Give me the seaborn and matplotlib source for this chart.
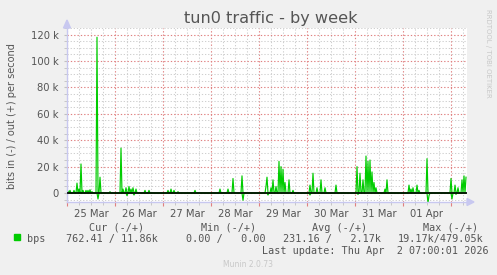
import numpy as np
import pandas as pd
import matplotlib
matplotlib.use("Agg")
import matplotlib.pyplot as plt
import matplotlib.ticker as mticker
from matplotlib.patches import Rectangle, Polygon
import seaborn as sns

# ---------------- data (hours since 25 Mar 00:00, values in kbit/s) ----------------
out_hours = [0.5, 1.5, 3.5, 5, 6, 7, 8, 9.5, 10.5, 11.5, 12.5, 15, 16.5, 21.5,
             27, 28, 29.5, 31, 32, 33, 34.5, 39, 41, 50.5, 52, 53.5, 55.5, 64,
             76.5, 80.5, 83, 87.5, 99.5, 100, 102, 103, 104.5, 106, 107, 108,
             109, 111, 113, 121.5, 123, 125, 127, 129, 134.5, 145, 146.5, 148,
             149.5, 150.5, 151.5, 152.5, 153.5, 154.5, 159, 160, 171, 172, 173,
             175, 176, 180, 192, 194, 195.5, 197.5, 198.5, 199.5]
out_kbps = [1.5, 2, 2, 7.5, 3, 22, 2, 2, 2, 2.5, 1, 118, 12, 1,
            34, 3, 4, 5, 3, 4, 3, 2, 2, 2, 3, 2, 1, 2,
            3, 3, 11, 13, 5, 12, 4, 10, 5, 24, 20, 18,
            8, 10, 2, 6, 15, 4, 10, 4, 6, 20, 15, 10,
            28, 24, 25, 16, 8, 4, 3, 10, 6, 3, 4,
            6, 2, 26, 11, 6, 4, 10, 13, 12]
in_hours = [15.5, 30, 33.5, 88, 100.5, 121.5, 145.5, 180.5, 181, 192.5, 194.5]
in_kbps = [4.5, 2, 1.5, 5.5, 1.5, 1.5, 1, 7.5, 2, 4.5, 1]

day_labels = ["25 Mar", "26 Mar", "27 Mar", "28 Mar", "29 Mar", "30 Mar", "31 Mar", "01 Apr"]
y_major = [0, 20000, 40000, 60000, 80000, 100000, 120000]

legend_head = ["Cur (-/+)", "Min (-/+)", "Avg (-/+)", "Max (-/+)"]
legend_vals = ["762.41 / 11.86k", "0.00 /   0.00", "231.16 /   2.17k", "19.17k/479.05k"]
last_update = "Last update: Thu Apr  2 07:00:01 2026"

# ---------------- build series at 30-minute resolution ----------------
hours = np.arange(0, 200, 0.5)
out_vals = np.zeros_like(hours)
in_vals = np.zeros_like(hours)
for h, v in zip(out_hours, out_kbps):
    out_vals[int(round(h * 2))] = v * 1000
for h, v in zip(in_hours, in_kbps):
    in_vals[int(round(h * 2))] = -v * 1000

df = pd.concat([
    pd.DataFrame({"hour": hours, "bps": in_vals, "dir": "in"}),
    pd.DataFrame({"hour": hours, "bps": out_vals, "dir": "out"}),
])

# ---------------- figure ----------------
W, H = 497, 275
BG = "#F0F0F0"
fig = plt.figure(figsize=(W / 100, H / 100), dpi=100, facecolor=BG)
L, R, T, B = 67, 467, 28, 202
ax = fig.add_axes([L / W, 1 - B / H, (R - L) / W, (B - T) / H])
ax.set_facecolor("white")

GREEN = "#00CC00"
sns.lineplot(data=df, x="hour", y="bps", hue="dir", palette=[GREEN, GREEN],
             linewidth=0.85, legend=False, ax=ax, estimator=None, sort=True)
ax.axhline(0, color="black", linewidth=1.2, zorder=5)

ax.set_xlim(0, 200)
ax.set_ylim(-6800, 125000)

# grids
ax.xaxis.set_major_locator(mticker.MultipleLocator(24))
ax.xaxis.set_minor_locator(mticker.MultipleLocator(6))
ax.yaxis.set_major_locator(mticker.FixedLocator(y_major))
ax.yaxis.set_minor_locator(mticker.MultipleLocator(5000))
ax.grid(which="minor", color="#CFCFCF", linestyle=(0, (1.2, 1.8)), linewidth=0.75)
ax.grid(which="major", color="#E08080", linestyle=(0, (1.2, 1.8)), linewidth=0.8)
ax.set_axisbelow(True)

def yfmt(v, pos):
    return "0" if v == 0 else f"{int(v / 1000)} k"
ax.yaxis.set_major_formatter(mticker.FuncFormatter(yfmt))
ax.tick_params(axis="y", which="both", length=2, color="#C0C0C0", labelsize=7.2, labelcolor="#555555", pad=4)
ax.tick_params(axis="x", which="major", length=3, color="#E08080", labelbottom=False)
ax.tick_params(axis="x", which="minor", length=2, color="#C0C0C0")

sec = ax.secondary_xaxis("bottom")
sec.set_xticks([12 + 24 * i for i in range(len(day_labels))], labels=day_labels)
sec.tick_params(length=0, labelsize=7.2, labelcolor="#555555", pad=5)
sec.spines["bottom"].set_visible(False)

for s in ["top", "right"]:
    ax.spines[s].set_visible(False)
ax.spines["left"].set_color("#C8C8F0")
ax.spines["bottom"].set_color("#C8C8F0")
ax.spines["left"].set_linewidth(1)
ax.spines["bottom"].set_linewidth(1)
ax.set_xlabel("")
ax.set_ylabel("")

# axis arrows
fig.patches.append(Polygon(
    [((L - 3.5) / W, 1 - 28 / H), ((L + 3.5) / W, 1 - 28 / H), (L / W, 1 - 20 / H)],
    closed=True, transform=fig.transFigure, color="#C8C8F0"))
fig.patches.append(Polygon(
    [(R / W, 1 - (B - 3.5) / H), (R / W, 1 - (B + 3.5) / H), ((R + 7) / W, 1 - B / H)],
    closed=True, transform=fig.transFigure, color="#C8C8F0"))

def fx(px):
    return px / W

def fy(py):
    return 1 - py / H

fig.text(fx(271), fy(19), "tun0 traffic - by week", ha="center", va="center",
         fontsize=11.6, color="#555555")
fig.text(fx(12), fy(116), "bits in (-) / out (+) per second", ha="center", va="center",
         rotation=90, fontsize=7, color="#555555")
fig.text(fx(488), fy(53), "RRDTOOL / TOBI OETIKER", ha="center", va="center",
         rotation=270, fontsize=5, color="#C8C8C8")

mono = "DejaVu Sans Mono"
fs = 7.26
head_x = [89, 200.7, 312, 422.7]
for x, t in zip(head_x, legend_head):
    fig.text(fx(x), fy(227.7), t, ha="left", va="center", family=mono, fontsize=fs, color="#555555")
fig.patches.append(Rectangle((fx(14), fy(239.5)), 6 / W, 6 / H, transform=fig.transFigure,
                             color=GREEN))
fig.text(fx(26.7), fy(239.3), "bps", ha="left", va="center", family=mono, fontsize=fs, color="#555555")
val_x = [66, 186, 283, 397.7]
for x, t in zip(val_x, legend_vals):
    fig.text(fx(x), fy(239.3), t, ha="left", va="center", family=mono, fontsize=fs, color="#555555")
fig.text(fx(262), fy(251), last_update, ha="left", va="center", family=mono, fontsize=fs, color="#555555")
fig.text(fx(248), fy(264.3), "Munin 2.0.73", ha="center", va="center", fontsize=5.5, color="#C8C8C8")

fig.savefig("out.png", dpi=100, facecolor=BG)
